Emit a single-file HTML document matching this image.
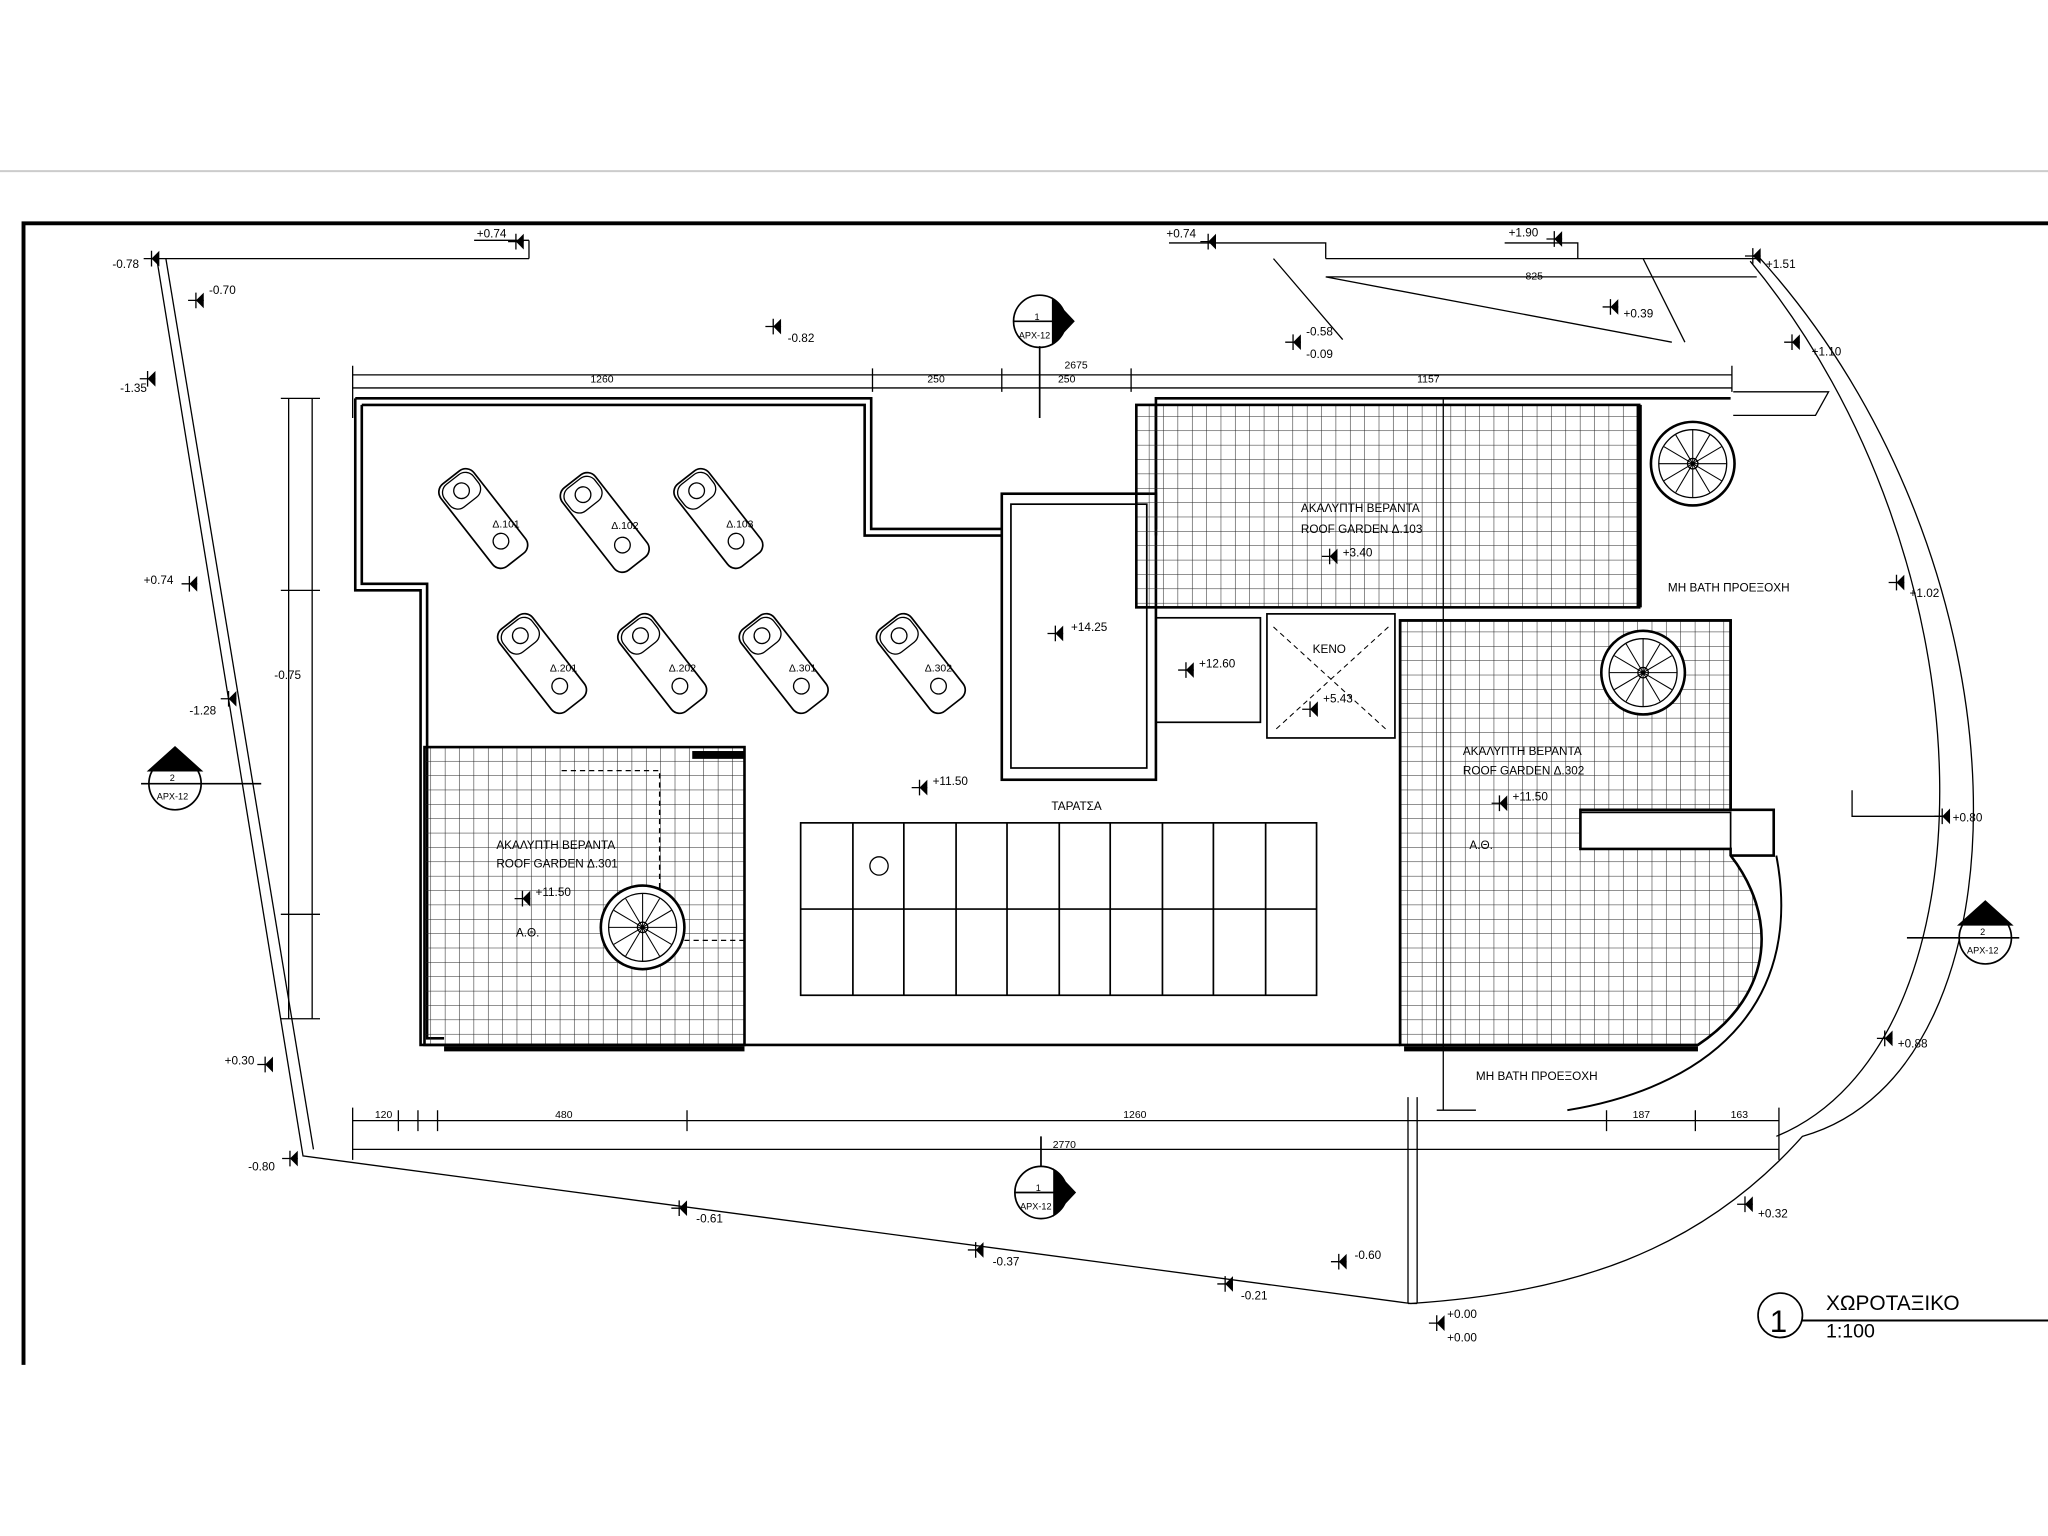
<!DOCTYPE html>
<html><head><meta charset="utf-8"><style>
html,body{margin:0;padding:0;background:#fff;}
svg{display:block;}
text{font-family:"Liberation Sans",sans-serif;fill:#000;}
</style></head><body>
<svg width="2048" height="1536" viewBox="0 0 1568 1176" preserveAspectRatio="none" xmlns="http://www.w3.org/2000/svg">
<defs>
<pattern id="g" width="11" height="11" patternUnits="userSpaceOnUse"><path d="M11 0V11H0" fill="none" stroke="#222" stroke-width="0.8"/></pattern>
<g id="lv"><path d="M0 0l6 -6v12z" fill="#000"/><path d="M-6 0h12M0 -6v12" stroke="#000" stroke-width="1"/></g>
<g id="bed"><rect x="-16" y="-40" width="32" height="80" rx="8" fill="#fff" stroke="#000" stroke-width="1.3"/><rect x="-14" y="-38" width="28" height="22" rx="8" fill="none" stroke="#000"/><circle cx="0" cy="-27" r="6" fill="#fff" stroke="#000"/><circle cx="0" cy="22" r="6" fill="#fff" stroke="#000"/></g>
<g id="sp"><circle r="32" fill="#fff" stroke="#000" stroke-width="2"/><circle r="26" fill="none" stroke="#000"/><circle r="4" fill="none" stroke="#000"/>
<path d="M0 0L26 0M0 0L22 13M0 0L13 22M0 0L0 26M0 0L-13 22M0 0L-22 13M0 0L-26 0M0 0L-22 -13M0 0L-13 -22M0 0L0 -26M0 0L13 -22M0 0L22 -13" stroke="#000" stroke-width="0.8"/></g>
</defs>
<rect width="1568" height="1176" fill="#fff"/>
<line x1="0" y1="131" x2="1568" y2="131" stroke="#ccc" stroke-width="1.5"/>
<path d="M18 1045V171H1568" fill="none" stroke="#000" stroke-width="3"/>

<!-- site boundary -->
<g fill="none" stroke="#000" stroke-width="1">
<path d="M120 198L405 198M405 184V198M363 184H405M895 186H1015V198M1152 186H1208V198M1015 198H1345"/>
<path d="M120 198L232 885L1080 998"/>
<path d="M127 198L240 880"/>
<path d="M1345 195C1560 430 1560 820 1380 870C1300 960 1200 990 1080 998"/>
<path d="M1340 200C1530 430 1530 800 1360 870"/>
<path d="M975 198L1028 260M1258 198L1290 262M1015 212H1345M1015 212L1280 262"/>
<path d="M1327 300L1400 300L1390 318L1327 318"/>
<path d="M1078 840V998M1085 840V998M1078 998H1085"/>
</g>

<!-- dimension lines -->
<g stroke="#000" stroke-width="1" fill="none">
<path d="M270 287H1326M270 297H1326M270 280V320M668 282V300M767 282V300M866 282V300M1326 280V300"/>
<path d="M221 305V780M239 305V780M215 305H245M215 452H245M215 700H245M215 780H245"/>
<path d="M270 858H1362M270 880H1362M270 848V888M305 850V866M320 850V866M335 850V866M526 850V866M1230 850V866M1298 850V866M1362 848V888"/>
<path d="M1418 605V625H1490"/>
</g>
<g font-size="8" fill="#444">
<text x="452" y="293">1260</text><text x="710" y="293">250</text><text x="810" y="293">250</text><text x="1085" y="293">1157</text><text x="815" y="282">2675</text>
<text x="425" y="856">480</text><text x="860" y="856">1260</text><text x="1250" y="856">187</text><text x="1325" y="856">163</text><text x="287" y="856">120</text><text x="806" y="879">2770</text><text x="1168" y="214">825</text>
</g>

<!-- building outline -->
<g fill="none" stroke="#000" stroke-width="2">
<path d="M272 305H667V405H767M885 405V305H1325M272 305V452H322V800H1072M1072 800V475H1325V620H1358V655H1325"/>
<path d="M277 310H662V410H767M885 410V310M277 310V447H327V795H340"/>
<rect x="767" y="378" width="118" height="219"/><rect x="774" y="386" width="104" height="202" stroke-width="1.3"/>
<rect x="885" y="473" width="80" height="80" stroke-width="1.3"/>
<rect x="970" y="470" width="98" height="95" stroke-width="1.3"/>
<path d="M975 480L1063 560M1063 480L975 560" stroke-width="0.8" stroke-dasharray="4 3"/>
<path d="M340 800H1072" stroke-width="1"/>
<path d="M1210 622H1325V650H1210z" stroke-width="1.3"/>
</g>

<!-- hatched areas -->
<rect x="325" y="572" width="245" height="228" fill="url(#g)" stroke="#000" stroke-width="2"/>
<rect x="870" y="310" width="385" height="155" fill="url(#g)" stroke="#000" stroke-width="2"/>
<path d="M1072 475H1325V620H1210V650H1325V655C1360 700 1360 760 1300 800H1072Z" fill="url(#g)" stroke="#000" stroke-width="2"/>
<path d="M1255 310V465" stroke="#000" stroke-width="4"/>
<path d="M340 803H570M1075 803H1300" stroke="#000" stroke-width="4"/>
<path d="M1360 655C1380 760 1320 830 1200 850" fill="none" stroke="#000" stroke-width="1.5"/>
<path d="M1105 305V850M1100 850H1130" stroke="#000" stroke-width="1"/>
<path d="M430 590H505V720H570" fill="none" stroke="#000" stroke-dasharray="4 3"/>
<rect x="530" y="575" width="40" height="6" fill="#000"/>

<use href="#sp" x="492" y="710"/>
<use href="#sp" x="1258" y="515"/>
<use href="#sp" x="1296" y="355"/>

<!-- sunbeds -->
<use href="#bed" transform="translate(370,397) rotate(-38)"/>
<use href="#bed" transform="translate(463,400) rotate(-38)"/>
<use href="#bed" transform="translate(550,397) rotate(-38)"/>
<use href="#bed" transform="translate(415,508) rotate(-38)"/>
<use href="#bed" transform="translate(507,508) rotate(-38)"/>
<use href="#bed" transform="translate(600,508) rotate(-38)"/>
<use href="#bed" transform="translate(705,508) rotate(-38)"/>
<g font-size="8"><text x="377" y="404">Δ.101</text><text x="468" y="405">Δ.102</text><text x="556" y="404">Δ.103</text><text x="421" y="514">Δ.201</text><text x="512" y="514">Δ.202</text><text x="604" y="514">Δ.301</text><text x="708" y="514">Δ.302</text></g>

<!-- stair grid -->
<g stroke="#000" stroke-width="1.3" fill="none">
<rect x="613" y="630" width="395" height="132"/><path d="M613 696H1008"/>
<path d="M653 630V762M692 630V762M732 630V762M771 630V762M811 630V762M850 630V762M890 630V762M929 630V762M969 630V762"/>
</g>
<circle cx="673" cy="663" r="7" fill="none" stroke="#000"/>

<!-- labels -->
<g font-size="9">
<text x="805" y="620">ΤΑΡΑΤΣΑ</text>
<text x="380" y="650">ΑΚΑΛΥΠΤΗ ΒΕΡΑΝΤΑ</text><text x="380" y="664">ROOF GARDEN Δ.301</text>
<text x="996" y="392">ΑΚΑΛΥΠΤΗ ΒΕΡΑΝΤΑ</text><text x="996" y="408">ROOF GARDEN Δ.103</text>
<text x="1120" y="578">ΑΚΑΛΥΠΤΗ ΒΕΡΑΝΤΑ</text><text x="1120" y="593">ROOF GARDEN Δ.302</text>
<text x="1277" y="453">ΜΗ ΒΑΤΗ ΠΡΟΕΞΟΧΗ</text><text x="1130" y="827">ΜΗ ΒΑΤΗ ΠΡΟΕΞΟΧΗ</text>
<text x="1005" y="500">ΚΕΝΟ</text><text x="395" y="717">Α.Θ.</text><text x="1125" y="650">Α.Θ.</text>
</g>

<!-- levels -->
<g font-size="9">
<use href="#lv" x="116" y="198"/><text x="86" y="205">-0.78</text>
<use href="#lv" x="150" y="230"/><text x="160" y="225">-0.70</text>
<use href="#lv" x="592" y="250"/><text x="603" y="262">-0.82</text>
<use href="#lv" x="395" y="185"/><text x="365" y="182">+0.74</text>
<use href="#lv" x="925" y="185"/><text x="893" y="182">+0.74</text>
<use href="#lv" x="1190" y="183"/><text x="1155" y="181">+1.90</text>
<use href="#lv" x="1342" y="196"/><text x="1352" y="205">+1.51</text>
<use href="#lv" x="1233" y="235"/><text x="1243" y="243">+0.39</text>
<use href="#lv" x="990" y="262"/><text x="1000" y="257">-0.58</text><text x="1000" y="274">-0.09</text>
<use href="#lv" x="1372" y="262"/><text x="1387" y="272">+1.10</text>
<use href="#lv" x="113" y="290"/><text x="92" y="300">-1.35</text>
<use href="#lv" x="145" y="447"/><text x="110" y="447">+0.74</text>
<use href="#lv" x="175" y="535"/><text x="145" y="547">-1.28</text><text x="210" y="520">-0.75</text>
<use href="#lv" x="1452" y="446"/><text x="1462" y="457">+1.02</text>
<use href="#lv" x="1018" y="426"/><text x="1028" y="426">+3.40</text>
<use href="#lv" x="808" y="485"/><text x="820" y="483">+14.25</text>
<use href="#lv" x="908" y="513"/><text x="918" y="511">+12.60</text>
<use href="#lv" x="1003" y="543"/><text x="1013" y="538">+5.43</text>
<use href="#lv" x="704" y="603"/><text x="714" y="601">+11.50</text>
<use href="#lv" x="1148" y="615"/><text x="1158" y="613">+11.50</text>
<use href="#lv" x="400" y="688"/><text x="410" y="686">+11.50</text>
<use href="#lv" x="1487" y="625"/><text x="1495" y="629">+0.80</text>
<use href="#lv" x="1443" y="795"/><text x="1453" y="802">+0.88</text>
<use href="#lv" x="203" y="815"/><text x="172" y="815">+0.30</text>
<use href="#lv" x="222" y="887"/><text x="190" y="896">-0.80</text>
<use href="#lv" x="520" y="925"/><text x="533" y="936">-0.61</text>
<use href="#lv" x="747" y="957"/><text x="760" y="969">-0.37</text>
<use href="#lv" x="938" y="983"/><text x="950" y="995">-0.21</text>
<use href="#lv" x="1025" y="966"/><text x="1037" y="964">-0.60</text>
<use href="#lv" x="1336" y="922"/><text x="1346" y="932">+0.32</text>
<use href="#lv" x="1100" y="1013"/><text x="1108" y="1009">+0.00</text><text x="1108" y="1027">+0.00</text>
</g>

<!-- section markers -->
<g stroke="#000" stroke-width="1.3">
<circle cx="796" cy="246" r="20" fill="#fff"/><path d="M806 229L822 246L806 263Z" fill="#000"/><path d="M776 246H816M796 265V320"/>
<circle cx="797" cy="913" r="20" fill="#fff"/><path d="M807 896L823 913L807 930Z" fill="#000"/><path d="M777 913H817M797 870V893"/>
<circle cx="134" cy="600" r="20" fill="#fff"/><path d="M114 590L134 572L154 590Z" fill="#000"/><path d="M108 600H200"/>
<circle cx="1520" cy="718" r="20" fill="#fff"/><path d="M1500 708L1520 690L1540 708Z" fill="#000"/><path d="M1460 718H1546"/>
</g>
<g font-size="7"><text x="792" y="245">1</text><text x="780" y="259">ΑΡΧ-12</text><text x="793" y="912">1</text><text x="781" y="926">ΑΡΧ-12</text>
<text x="130" y="598">2</text><text x="120" y="612">ΑΡΧ-12</text><text x="1516" y="716">2</text><text x="1506" y="730">ΑΡΧ-12</text></g>

<!-- title -->
<circle cx="1363" cy="1007" r="17" fill="none" stroke="#000" stroke-width="1.3"/>
<text x="1355" y="1020" font-size="24">1</text>
<line x1="1379" y1="1011" x2="1568" y2="1011" stroke="#000" stroke-width="1.5"/>
<text x="1398" y="1003" font-size="16" fill="#333">ΧΩΡΟΤΑΞΙΚΟ</text>
<text x="1398" y="1024" font-size="15" fill="#333">1:100</text>
</svg>
</body></html>
